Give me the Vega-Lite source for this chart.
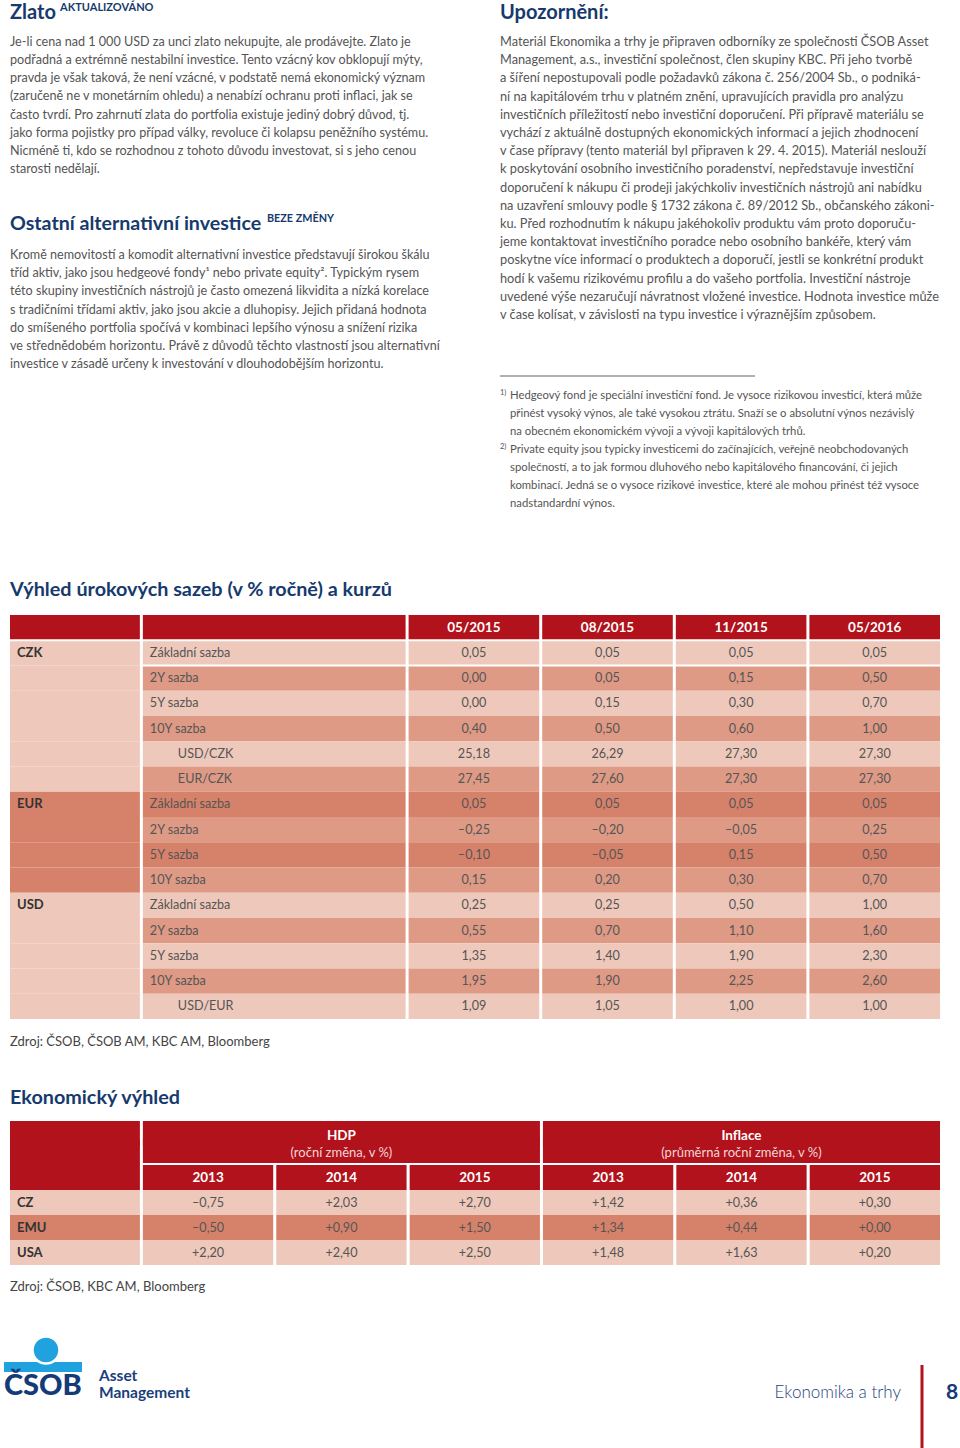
{
  "$schema": "https://vega.github.io/schema/vega-lite/v6.json",
  "width": 960,
  "height": 1448,
  "padding": 0,
  "autosize": {"type": "none"},
  "background": "white",
  "config": {
    "view": {"stroke": null},
    "axis": {"disable": true},
    "legend": {"disable": true},
    "text": {"font": "Lato", "baseline": "middle"},
    "locale": {"number": {"decimal": ",", "thousands": " ", "grouping": [3], "currency": ["", ""], "minus": "–"}}
  },
  "datasets": {
    "rates": [
      {"r": 1, "group": "CZK", "i": 0, "item": "Základní sazba", "05/2015": 0.05, "08/2015": 0.05, "11/2015": 0.05, "05/2016": 0.05},
      {"r": 2, "group": "CZK", "i": 1, "item": "2Y sazba", "05/2015": 0.00, "08/2015": 0.05, "11/2015": 0.15, "05/2016": 0.50},
      {"r": 3, "group": "CZK", "i": 2, "item": "5Y sazba", "05/2015": 0.00, "08/2015": 0.15, "11/2015": 0.30, "05/2016": 0.70},
      {"r": 4, "group": "CZK", "i": 3, "item": "10Y sazba", "05/2015": 0.40, "08/2015": 0.50, "11/2015": 0.60, "05/2016": 1.00},
      {"r": 5, "group": "CZK", "i": 4, "item": "USD/CZK", "05/2015": 25.18, "08/2015": 26.29, "11/2015": 27.30, "05/2016": 27.30},
      {"r": 6, "group": "CZK", "i": 5, "item": "EUR/CZK", "05/2015": 27.45, "08/2015": 27.60, "11/2015": 27.30, "05/2016": 27.30},
      {"r": 7, "group": "EUR", "i": 0, "item": "Základní sazba", "05/2015": 0.05, "08/2015": 0.05, "11/2015": 0.05, "05/2016": 0.05},
      {"r": 8, "group": "EUR", "i": 1, "item": "2Y sazba", "05/2015": -0.25, "08/2015": -0.20, "11/2015": -0.05, "05/2016": 0.25},
      {"r": 9, "group": "EUR", "i": 2, "item": "5Y sazba", "05/2015": -0.10, "08/2015": -0.05, "11/2015": 0.15, "05/2016": 0.50},
      {"r": 10, "group": "EUR", "i": 3, "item": "10Y sazba", "05/2015": 0.15, "08/2015": 0.20, "11/2015": 0.30, "05/2016": 0.70},
      {"r": 11, "group": "USD", "i": 0, "item": "Základní sazba", "05/2015": 0.25, "08/2015": 0.25, "11/2015": 0.50, "05/2016": 1.00},
      {"r": 12, "group": "USD", "i": 1, "item": "2Y sazba", "05/2015": 0.55, "08/2015": 0.70, "11/2015": 1.10, "05/2016": 1.60},
      {"r": 13, "group": "USD", "i": 2, "item": "5Y sazba", "05/2015": 1.35, "08/2015": 1.40, "11/2015": 1.90, "05/2016": 2.30},
      {"r": 14, "group": "USD", "i": 3, "item": "10Y sazba", "05/2015": 1.95, "08/2015": 1.90, "11/2015": 2.25, "05/2016": 2.60},
      {"r": 15, "group": "USD", "i": 4, "item": "USD/EUR", "05/2015": 1.09, "08/2015": 1.05, "11/2015": 1.00, "05/2016": 1.00}
    ],
    "periods": [{"period": "05/2015"}, {"period": "08/2015"}, {"period": "11/2015"}, {"period": "05/2016"}],
    "econ": [
      {"country": "CZ", "indicator": "HDP", "year": 2013, "value": -0.75},
      {"country": "CZ", "indicator": "HDP", "year": 2014, "value": 2.03},
      {"country": "CZ", "indicator": "HDP", "year": 2015, "value": 2.70},
      {"country": "CZ", "indicator": "Inflace", "year": 2013, "value": 1.42},
      {"country": "CZ", "indicator": "Inflace", "year": 2014, "value": 0.36},
      {"country": "CZ", "indicator": "Inflace", "year": 2015, "value": 0.30},
      {"country": "EMU", "indicator": "HDP", "year": 2013, "value": -0.50},
      {"country": "EMU", "indicator": "HDP", "year": 2014, "value": 0.90},
      {"country": "EMU", "indicator": "HDP", "year": 2015, "value": 1.50},
      {"country": "EMU", "indicator": "Inflace", "year": 2013, "value": 1.34},
      {"country": "EMU", "indicator": "Inflace", "year": 2014, "value": 0.44},
      {"country": "EMU", "indicator": "Inflace", "year": 2015, "value": 0.00},
      {"country": "USA", "indicator": "HDP", "year": 2013, "value": 2.20},
      {"country": "USA", "indicator": "HDP", "year": 2014, "value": 2.40},
      {"country": "USA", "indicator": "HDP", "year": 2015, "value": 2.50},
      {"country": "USA", "indicator": "Inflace", "year": 2013, "value": 1.48},
      {"country": "USA", "indicator": "Inflace", "year": 2014, "value": 1.63},
      {"country": "USA", "indicator": "Inflace", "year": 2015, "value": 0.20}
    ],
    "indicators": [
      {"indicator": "HDP", "sub": "(roční změna, v %)"},
      {"indicator": "Inflace", "sub": "(průměrná roční změna, v %)"}
    ]
  },
  "resolve": {"scale": {"x": "independent", "y": "independent"}},
  "layer": [
    {
      "data": {"values": [
        {"part": "title", "n": 0, "text": "Zlato"},
        {"part": "tag", "n": 0, "text": "AKTUALIZOVÁNO"},
        {"part": "body", "n": 1, "text": "Je-li cena nad 1 000 USD za unci zlato nekupujte, ale prodávejte. Zlato je"},
        {"part": "body", "n": 2, "text": "podřadná a extrémně nestabilní investice. Tento vzácný kov obklopují mýty,"},
        {"part": "body", "n": 3, "text": "pravda je však taková, že není vzácné, v podstatě nemá ekonomický význam"},
        {"part": "body", "n": 4, "text": "(zaručeně ne v monetárním ohledu) a nenabízí ochranu proti inflaci, jak se"},
        {"part": "body", "n": 5, "text": "často tvrdí. Pro zahrnutí zlata do portfolia existuje jediný dobrý důvod, tj."},
        {"part": "body", "n": 6, "text": "jako forma pojistky pro případ války, revoluce či kolapsu peněžního systému."},
        {"part": "body", "n": 7, "text": "Nicméně ti, kdo se rozhodnou z tohoto důvodu investovat, si s jeho cenou"},
        {"part": "body", "n": 8, "text": "starosti nedělají."}
      ]},
      "encoding": {
        "x": {"datum": "left", "type": "nominal", "scale": {"type": "point", "domain": ["left", "right"], "range": [10, 500], "padding": 0}},
        "y": {"field": "n", "type": "quantitative", "scale": {"domain": [1, 8], "range": [42, 169], "zero": false, "nice": false}},
        "text": {"field": "text"}
      },
      "layer": [
        {"transform": [{"filter": "datum.part === 'title'"}], "mark": {"type": "text", "align": "left", "fontSize": 20, "fontWeight": "bold", "color": "#163a6d", "dy": -10.5}},
        {"transform": [{"filter": "datum.part === 'tag'"}], "mark": {"type": "text", "align": "left", "fontSize": 11, "fontWeight": "bold", "color": "#163a6d", "dy": -15.5, "dx": 50}},
        {"transform": [{"filter": "datum.part === 'body'"}], "mark": {"type": "text", "align": "left", "fontSize": 12.6, "color": "#555555"}}
      ]
    },
    {
      "data": {"values": [
        {"part": "title", "n": 0, "text": "Ostatní alternativní investice"},
        {"part": "tag", "n": 0, "text": "BEZE ZMĚNY"},
        {"part": "body", "n": 1, "text": "Kromě nemovitostí a komodit alternativní investice představují širokou škálu"},
        {"part": "body", "n": 2, "text": "tříd aktiv, jako jsou hedgeové fondy¹ nebo private equity². Typickým rysem"},
        {"part": "body", "n": 3, "text": "této skupiny investičních nástrojů je často omezená likvidita a nízká korelace"},
        {"part": "body", "n": 4, "text": "s tradičními třídami aktiv, jako jsou akcie a dluhopisy. Jejich přidaná hodnota"},
        {"part": "body", "n": 5, "text": "do smíšeného portfolia spočívá v kombinaci lepšího výnosu a snížení rizika"},
        {"part": "body", "n": 6, "text": "ve střednědobém horizontu. Právě z důvodů těchto vlastností jsou alternativní"},
        {"part": "body", "n": 7, "text": "investice v zásadě určeny k investování v dlouhodobějším horizontu."}
      ]},
      "encoding": {
        "x": {"datum": "left", "type": "nominal", "scale": {"type": "point", "domain": ["left", "right"], "range": [10, 500], "padding": 0}},
        "y": {"field": "n", "type": "quantitative", "scale": {"domain": [1, 7], "range": [255, 364], "zero": false, "nice": false}},
        "text": {"field": "text"}
      },
      "layer": [
        {"transform": [{"filter": "datum.part === 'title'"}], "mark": {"type": "text", "align": "left", "fontSize": 19.6, "fontWeight": "bold", "color": "#163a6d", "dy": -13}},
        {"transform": [{"filter": "datum.part === 'tag'"}], "mark": {"type": "text", "align": "left", "fontSize": 10.8, "fontWeight": "bold", "color": "#163a6d", "dy": -18, "dx": 257}},
        {"transform": [{"filter": "datum.part === 'body'"}], "mark": {"type": "text", "align": "left", "fontSize": 12.6, "color": "#555555"}}
      ]
    },
    {
      "data": {"values": [
        {"part": "title", "n": 0, "text": "Upozornění:"},
        {"part": "body", "n": 1, "text": "Materiál Ekonomika a trhy je připraven odborníky ze společnosti ČSOB Asset"},
        {"part": "body", "n": 2, "text": "Management, a.s., investiční společnost, člen skupiny KBC. Při jeho tvorbě"},
        {"part": "body", "n": 3, "text": "a šíření nepostupovali podle požadavků zákona č. 256/2004 Sb., o podniká-"},
        {"part": "body", "n": 4, "text": "ní na kapitálovém trhu v platném znění, upravujících pravidla pro analýzu"},
        {"part": "body", "n": 5, "text": "investičních příležitostí nebo investiční doporučení. Při přípravě materiálu se"},
        {"part": "body", "n": 6, "text": "vychází z aktuálně dostupných ekonomických informací a jejich zhodnocení"},
        {"part": "body", "n": 7, "text": "v čase přípravy (tento materiál byl připraven k 29. 4. 2015). Materiál neslouží"},
        {"part": "body", "n": 8, "text": "k poskytování osobního investičního poradenství, nepředstavuje investiční"},
        {"part": "body", "n": 9, "text": "doporučení k nákupu či prodeji jakýchkoliv investičních nástrojů ani nabídku"},
        {"part": "body", "n": 10, "text": "na uzavření smlouvy podle § 1732 zákona č. 89/2012 Sb., občanského zákoni-"},
        {"part": "body", "n": 11, "text": "ku. Před rozhodnutím k nákupu jakéhokoliv produktu vám proto doporuču-"},
        {"part": "body", "n": 12, "text": "jeme kontaktovat investičního poradce nebo osobního bankéře, který vám"},
        {"part": "body", "n": 13, "text": "poskytne více informací o produktech a doporučí, jestli se konkrétní produkt"},
        {"part": "body", "n": 14, "text": "hodí k vašemu rizikovému profilu a do vašeho portfolia. Investiční nástroje"},
        {"part": "body", "n": 15, "text": "uvedené výše nezaručují návratnost vložené investice. Hodnota investice může"},
        {"part": "body", "n": 16, "text": "v čase kolísat, v závislosti na typu investice i výraznějším způsobem."}
      ]},
      "encoding": {
        "x": {"datum": "right", "type": "nominal", "scale": {"type": "point", "domain": ["left", "right"], "range": [10, 500], "padding": 0}},
        "y": {"field": "n", "type": "quantitative", "scale": {"domain": [1, 16], "range": [42, 315], "zero": false, "nice": false}},
        "text": {"field": "text"}
      },
      "layer": [
        {"transform": [{"filter": "datum.part === 'title'"}], "mark": {"type": "text", "align": "left", "fontSize": 20, "fontWeight": "bold", "color": "#163a6d", "dy": -10.5}},
        {"transform": [{"filter": "datum.part === 'body'"}], "mark": {"type": "text", "align": "left", "fontSize": 12.75, "color": "#555555"}}
      ]
    },
    {
      "data": {"values": [
        {"part": "rule", "n": 0},
        {"part": "marker", "n": 1, "text": "1)"},
        {"part": "marker", "n": 4, "text": "2)"},
        {"part": "body", "n": 1, "text": "Hedgeový fond je speciální investiční fond. Je vysoce rizikovou investicí, která může"},
        {"part": "body", "n": 2, "text": "přinést vysoký výnos, ale také vysokou ztrátu. Snaží se o absolutní výnos nezávislý"},
        {"part": "body", "n": 3, "text": "na obecném ekonomickém vývoji a vývoji kapitálových trhů."},
        {"part": "body", "n": 4, "text": "Private equity jsou typicky investicemi do začínajících, veřejně neobchodovaných"},
        {"part": "body", "n": 5, "text": "společností, a to jak formou dluhového nebo kapitálového financování, či jejich"},
        {"part": "body", "n": 6, "text": "kombinací. Jedná se o vysoce rizikové investice, které ale mohou přinést též vysoce"},
        {"part": "body", "n": 7, "text": "nadstandardní výnos."}
      ]},
      "encoding": {
        "x": {"datum": "right", "type": "nominal", "scale": {"type": "point", "domain": ["left", "right"], "range": [10, 500], "padding": 0}},
        "y": {"field": "n", "type": "quantitative", "scale": {"domain": [1, 7], "range": [396, 504], "zero": false, "nice": false}}
      },
      "layer": [
        {"transform": [{"filter": "datum.part === 'rule'"}], "mark": {"type": "rule", "color": "#3a3a3a", "strokeWidth": 0.8, "x2Offset": 255, "yOffset": -2}, "encoding": {"x2": {"datum": "right"}}},
        {"transform": [{"filter": "datum.part === 'marker'"}], "mark": {"type": "text", "align": "left", "fontSize": 7.5, "color": "#555555", "dy": -3}, "encoding": {"text": {"field": "text"}}},
        {"transform": [{"filter": "datum.part === 'body'"}], "mark": {"type": "text", "align": "left", "fontSize": 11.3, "color": "#555555", "dx": 10}, "encoding": {"text": {"field": "text"}}}
      ]
    },
    {
      "encoding": {
        "x": {"datum": 0, "type": "quantitative", "scale": {"domain": [0, 3], "range": [10, 408.6], "zero": false, "nice": false}},
        "y": {"field": "r", "type": "ordinal", "scale": {"type": "band", "domain": [0, 1, 2, 3, 4, 5, 6, 7, 8, 9, 10, 11, 12, 13, 14, 15], "range": [615, 1019], "paddingInner": 0, "paddingOuter": 0}}
      },
      "layer": [
        {"data": {"values": [{"cell": "group-head"}]}, "mark": {"type": "rect", "color": "#b1121b", "x2Offset": -3},
         "encoding": {"x2": {"datum": 1}, "y": {"datum": 0, "type": "ordinal"}}},
        {"data": {"values": [{"cell": "item-head"}]}, "mark": {"type": "rect", "color": "#b1121b", "x2Offset": -3},
         "encoding": {"x": {"datum": 1, "type": "quantitative"}, "x2": {"datum": 3}, "y": {"datum": 0, "type": "ordinal"}}},
        {"data": {"name": "rates"}, "mark": {"type": "rect", "x2Offset": -3},
         "encoding": {"x2": {"datum": 1},
           "color": {"condition": {"test": "datum.group === 'EUR'", "value": "#d6826b"}, "value": "#eec8ba"}}},
        {"data": {"name": "rates"}, "mark": {"type": "rect", "x2Offset": -3},
         "encoding": {"x": {"datum": 1, "type": "quantitative"}, "x2": {"datum": 3},
           "color": {"condition": [{"test": "datum.group === 'EUR' && datum.i % 2 === 0", "value": "#d6826b"}, {"test": "datum.i % 2 === 1", "value": "#de9a85"}], "value": "#eec8ba"}}},
        {"data": {"name": "rates"}, "transform": [{"filter": "datum.i === 0"}],
         "mark": {"type": "text", "align": "left", "dx": 7, "fontSize": 13, "fontWeight": "bold", "color": "#333333"},
         "encoding": {"text": {"field": "group"}}},
        {"data": {"name": "rates"}, "transform": [{"filter": "indexof(datum.item, '/') < 0"}],
         "mark": {"type": "text", "align": "left", "dx": 7, "fontSize": 12.6, "color": "#555555"},
         "encoding": {"x": {"datum": 1, "type": "quantitative"}, "text": {"field": "item"}}},
        {"data": {"name": "rates"}, "transform": [{"filter": "indexof(datum.item, '/') >= 0"}],
         "mark": {"type": "text", "align": "left", "dx": 35, "fontSize": 12.6, "color": "#555555"},
         "encoding": {"x": {"datum": 1, "type": "quantitative"}, "text": {"field": "item"}}},
        {"data": {"values": [{"caption": "Výhled úrokových sazeb (v % ročně) a kurzů"}]},
         "mark": {"type": "text", "align": "left", "dy": -38, "fontSize": 19.8, "fontWeight": "bold", "color": "#163a6d"},
         "encoding": {"y": {"datum": 0, "type": "ordinal"}, "text": {"field": "caption"}}},
        {"data": {"values": [{"source": "Zdroj: ČSOB, ČSOB AM, KBC AM, Bloomberg"}]},
         "mark": {"type": "text", "align": "left", "dy": 36, "fontSize": 13, "color": "#444444"},
         "encoding": {"y": {"datum": 15, "type": "ordinal"}, "text": {"field": "source"}}}
      ]
    },
    {
      "encoding": {
        "x": {"field": "period", "type": "nominal", "scale": {"type": "band", "domain": ["05/2015", "08/2015", "11/2015", "05/2016"], "range": [408.6, 940], "paddingInner": 0.0225, "paddingOuter": 0}},
        "y": {"field": "r", "type": "ordinal", "scale": {"type": "band", "domain": [0, 1, 2, 3, 4, 5, 6, 7, 8, 9, 10, 11, 12, 13, 14, 15], "range": [615, 1019], "paddingInner": 0, "paddingOuter": 0}}
      },
      "layer": [
        {"data": {"name": "periods"}, "mark": {"type": "rect", "color": "#b1121b"},
         "encoding": {"y": {"datum": 0, "type": "ordinal"}}},
        {"data": {"name": "periods"}, "mark": {"type": "text", "align": "center", "fontSize": 13.5, "fontWeight": "bold", "color": "white"},
         "encoding": {"y": {"datum": 0, "type": "ordinal"}, "text": {"field": "period"}}},
        {"data": {"name": "rates"}, "transform": [{"fold": ["05/2015", "08/2015", "11/2015", "05/2016"], "as": ["period", "value"]}],
         "mark": {"type": "rect"},
         "encoding": {"color": {"condition": [{"test": "datum.group === 'EUR' && datum.i % 2 === 0", "value": "#d6826b"}, {"test": "datum.i % 2 === 1", "value": "#de9a85"}], "value": "#eec8ba"}}},
        {"data": {"name": "rates"}, "transform": [{"fold": ["05/2015", "08/2015", "11/2015", "05/2016"], "as": ["period", "value"]}],
         "mark": {"type": "text", "align": "center", "fontSize": 12.6, "color": "#555555"},
         "encoding": {"text": {"field": "value", "type": "quantitative", "format": ".2f"}}}
      ]
    },
    {
      "data": {"values": [{"separator": "white"}]},
      "encoding": {
        "x": {"datum": 0, "type": "quantitative", "scale": {"domain": [0, 7], "range": [10, 940], "zero": false, "nice": false}},
        "x2": {"datum": 7},
        "y": {"datum": 1, "type": "ordinal", "bandPosition": 0, "scale": {"type": "band", "domain": [0, 1, 2, 3, 4, 5, 6, 7, 8, 9, 10, 11, 12, 13, 14, 15], "range": [615, 1019], "paddingInner": 0, "paddingOuter": 0}}
      },
      "layer": [
        {"mark": {"type": "rule", "color": "white", "strokeWidth": 2}},
        {"mark": {"type": "rule", "color": "white", "strokeWidth": 2},
         "encoding": {"x": {"datum": 1, "type": "quantitative"}, "y": {"datum": 2, "type": "ordinal", "bandPosition": 0}}}
      ]
    },
    {
      "encoding": {
        "x": {"datum": 0, "type": "quantitative", "scale": {"domain": [0, 1], "range": [10, 142.9], "zero": false, "nice": false}},
        "y": {"field": "country", "type": "nominal", "scale": {"type": "band", "domain": ["top1", "top2", "years", "CZ", "EMU", "USA"], "range": [1115, 1265], "paddingInner": 0, "paddingOuter": 0}}
      },
      "layer": [
        {"data": {"values": [{"cell": "corner"}]}, "mark": {"type": "rect", "color": "#b1121b", "x2Offset": -3, "yOffset": 6},
         "encoding": {"x2": {"datum": 1}, "y": {"datum": "top1", "type": "nominal"}}},
        {"data": {"values": [{"cell": "corner"}]}, "mark": {"type": "rect", "color": "#b1121b", "x2Offset": -3},
         "encoding": {"x2": {"datum": 1}, "y": {"datum": "top2", "type": "nominal"}}},
        {"data": {"values": [{"cell": "corner"}]}, "mark": {"type": "rect", "color": "#b1121b", "x2Offset": -3},
         "encoding": {"x2": {"datum": 1}, "y": {"datum": "years", "type": "nominal"}}},
        {"data": {"name": "econ"}, "transform": [{"filter": "datum.indicator === 'HDP' && datum.year === 2013"}],
         "mark": {"type": "rect", "x2Offset": -3},
         "encoding": {"x2": {"datum": 1}, "color": {"condition": {"test": "datum.country === 'EMU'", "value": "#d6826b"}, "value": "#eec8ba"}}},
        {"data": {"name": "econ"}, "transform": [{"filter": "datum.indicator === 'HDP' && datum.year === 2013"}],
         "mark": {"type": "text", "align": "left", "dx": 7, "fontSize": 13, "fontWeight": "bold", "color": "#333333"},
         "encoding": {"text": {"field": "country"}}},
        {"data": {"values": [{"caption": "Ekonomický výhled"}]},
         "mark": {"type": "text", "align": "left", "dy": -30, "fontSize": 19.8, "fontWeight": "bold", "color": "#163a6d"},
         "encoding": {"y": {"datum": "top1", "type": "nominal"}, "text": {"field": "caption"}}},
        {"data": {"values": [{"source": "Zdroj: ČSOB, KBC AM, Bloomberg"}]},
         "mark": {"type": "text", "align": "left", "dy": 34, "fontSize": 13, "color": "#444444"},
         "encoding": {"y": {"datum": "USA", "type": "nominal"}, "text": {"field": "source"}}}
      ]
    },
    {
      "encoding": {
        "x": {"field": "indicator", "type": "nominal", "scale": {"type": "band", "domain": ["HDP", "Inflace"], "range": [142.9, 940], "paddingInner": 0.0075, "paddingOuter": 0}},
        "y": {"field": "country", "type": "nominal", "scale": {"type": "band", "domain": ["top1", "top2", "years", "CZ", "EMU", "USA"], "range": [1115, 1265], "paddingInner": 0, "paddingOuter": 0}}
      },
      "layer": [
        {"data": {"name": "indicators"}, "mark": {"type": "rect", "color": "#b1121b", "yOffset": 6},
         "encoding": {"y": {"datum": "top1", "type": "nominal"}}},
        {"data": {"name": "indicators"}, "mark": {"type": "rect", "color": "#b1121b", "yOffset": -2},
         "encoding": {"y": {"datum": "top2", "type": "nominal"}}},
        {"data": {"name": "indicators"}, "mark": {"type": "text", "align": "center", "dy": 8, "fontSize": 13.5, "fontWeight": "bold", "color": "white"},
         "encoding": {"y": {"datum": "top1", "type": "nominal"}, "text": {"field": "indicator"}}},
        {"data": {"name": "indicators"}, "mark": {"type": "text", "align": "center", "dy": 0, "fontSize": 13, "color": "#f3d6d6"},
         "encoding": {"y": {"datum": "top2", "type": "nominal"}, "text": {"field": "sub"}}},
        {"data": {"name": "econ"}, "transform": [{"filter": "datum.country === 'CZ'"}],
         "mark": {"type": "rect", "color": "#b1121b"},
         "encoding": {"y": {"datum": "years", "type": "nominal"},
           "xOffset": {"field": "year", "type": "ordinal", "scale": {"type": "band", "domain": [2013, 2014, 2015], "paddingInner": 0.023, "paddingOuter": 0}}}},
        {"data": {"name": "econ"}, "transform": [{"filter": "datum.country === 'CZ'"}],
         "mark": {"type": "text", "align": "center", "fontSize": 13.5, "fontWeight": "bold", "color": "white"},
         "encoding": {"y": {"datum": "years", "type": "nominal"},
           "xOffset": {"field": "year", "type": "ordinal", "scale": {"type": "band", "domain": [2013, 2014, 2015], "paddingInner": 0.023, "paddingOuter": 0}},
           "text": {"field": "year", "type": "ordinal"}}},
        {"data": {"name": "econ"}, "mark": {"type": "rect"},
         "encoding": {
           "xOffset": {"field": "year", "type": "ordinal", "scale": {"type": "band", "domain": [2013, 2014, 2015], "paddingInner": 0.023, "paddingOuter": 0}},
           "color": {"condition": {"test": "datum.country === 'EMU'", "value": "#d6826b"}, "value": "#eec8ba"}}},
        {"data": {"name": "econ"}, "mark": {"type": "text", "align": "center", "fontSize": 12.6, "color": "#555555"},
         "encoding": {
           "xOffset": {"field": "year", "type": "ordinal", "scale": {"type": "band", "domain": [2013, 2014, 2015], "paddingInner": 0.023, "paddingOuter": 0}},
           "text": {"field": "value", "type": "quantitative", "format": "+.2f"}}}
      ]
    },
    {
      "data": {"values": [
        {"part": "band", "side": "left", "line": "1"},
        {"part": "dot", "side": "left", "line": "1"},
        {"part": "brand", "side": "left", "line": "2", "text": "ČSOB"},
        {"part": "unit", "side": "left", "line": "1", "text": "Asset"},
        {"part": "unit", "side": "left", "line": "2", "text": "Management"},
        {"part": "pub", "side": "right", "line": "2", "text": "Ekonomika a trhy"},
        {"part": "bar", "side": "right", "line": "1"},
        {"part": "page", "side": "right", "line": "2", "text": "8"}
      ]},
      "encoding": {
        "x": {"field": "side", "type": "nominal", "scale": {"type": "point", "domain": ["left", "right"], "range": [4, 952], "padding": 0}},
        "y": {"field": "line", "type": "nominal", "scale": {"type": "point", "domain": ["1", "2"], "range": [1376, 1393], "padding": 0}}
      },
      "layer": [
        {"transform": [{"filter": "datum.part === 'band'"}], "mark": {"type": "rule", "color": "#1fa2dd", "strokeWidth": 10, "yOffset": -9, "x2Offset": 78},
         "encoding": {"x2": {"datum": "left"}}},
        {"transform": [{"filter": "datum.part === 'dot'"}], "mark": {"type": "point", "shape": "circle", "filled": true, "fill": "#1fa2dd", "stroke": "white", "strokeWidth": 2.5, "opacity": 1, "size": 729, "xOffset": 42, "yOffset": -26}},
        {"transform": [{"filter": "datum.part === 'brand'"}], "mark": {"type": "text", "align": "left", "dy": -7, "fontSize": 29, "fontWeight": 900, "color": "#143b78"},
         "encoding": {"text": {"field": "text"}}},
        {"transform": [{"filter": "datum.part === 'unit'"}], "mark": {"type": "text", "align": "left", "dx": 95, "fontSize": 15.5, "fontWeight": "bold", "color": "#1b3f7b"},
         "encoding": {"text": {"field": "text"}}},
        {"transform": [{"filter": "datum.part === 'pub'"}], "mark": {"type": "text", "align": "right", "dx": -51, "fontSize": 17, "fontWeight": 300, "color": "#1b3f7b"},
         "encoding": {"text": {"field": "text"}}},
        {"transform": [{"filter": "datum.part === 'bar'"}], "mark": {"type": "rule", "color": "#b1121b", "strokeWidth": 3, "xOffset": -30, "yOffset": -11, "y2Offset": 55},
         "encoding": {"y2": {"datum": "2"}}},
        {"transform": [{"filter": "datum.part === 'page'"}], "mark": {"type": "text", "align": "center", "fontSize": 21, "fontWeight": "bold", "color": "#143b78"},
         "encoding": {"text": {"field": "text"}}}
      ]
    }
  ]
}
